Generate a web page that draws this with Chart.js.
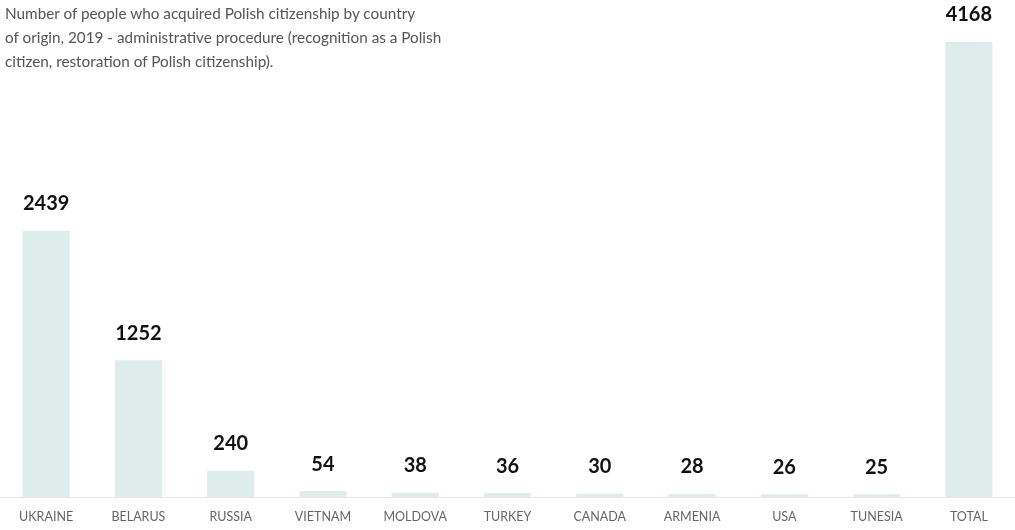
<!DOCTYPE html>
<html>
<head>
<meta charset="utf-8">
<script src="https://cdn.jsdelivr.net/npm/chart.js@4"></script>
<style>
  html, body { margin: 0; padding: 0; background: #fff; }
  #wrap { position: relative; width: 1015px; height: 530px; }
  #title {
    position: absolute; left: 5px; top: 1px; white-space: nowrap;
    font-family: Lato, sans-serif; font-size: 15.3px; line-height: 24px; color: #555;
  }
</style>
</head>
<body>
<div id="wrap">
  <canvas id="Chart01" width="1015" height="530"></canvas>
  <div id="title">Number of people who acquired Polish citizenship by country<br>of origin, 2019 - administrative procedure (recognition as a Polish<br>citizen, restoration of Polish citizenship).</div>
</div>
<script>
/* Data */
const countries = ['UKRAINE', 'BELARUS', 'RUSSIA', 'VIETNAM', 'MOLDOVA', 'TURKEY', 'CANADA', 'ARMENIA', 'USA', 'TUNESIA', 'TOTAL'];
const people = [2439, 1252, 240, 54, 38, 36, 30, 28, 26, 25, 4168];

/* Value labels above bars */
const valueLabels = {
  id: 'valueLabels',
  afterDatasetsDraw(chart) {
    const ctx = chart.ctx;
    const meta = chart.getDatasetMeta(0);
    ctx.save();
    ctx.font = 'bold 20px Lato, sans-serif';
    ctx.fillStyle = '#111';
    ctx.textAlign = 'center';
    ctx.textBaseline = 'middle';
    meta.data.forEach((bar, i) => {
      ctx.fillText(String(people[i]), bar.x, bar.y - 27);
    });
    ctx.restore();
  }
};

const config01 = {
  type: 'bar',
  data: {
    labels: countries,
    datasets: [{
      data: people,
      backgroundColor: 'rgb(222, 237, 236)',
      categoryPercentage: 1,
      barPercentage: 0.51
    }]
  },
  options: {
    responsive: false,
    animation: false,
    layout: {padding: {top: 42, bottom: 2, left: -2, right: 0}},
    plugins: {legend: {display: false}, tooltip: {enabled: false}},
    scales: {
      x: {
        grid: {display: false},
        border: {display: true, color: '#e6e6e6', width: 1},
        ticks: {color: '#666', font: {family: 'Lato', size: 12.5}, padding: 4, maxRotation: 0}
      },
      y: {display: false, min: 0, max: 4168}
    }
  },
  plugins: [valueLabels]
};

const ctxch01 = document.getElementById('Chart01');
new Chart(ctxch01, config01);
</script>
</body>
</html>
